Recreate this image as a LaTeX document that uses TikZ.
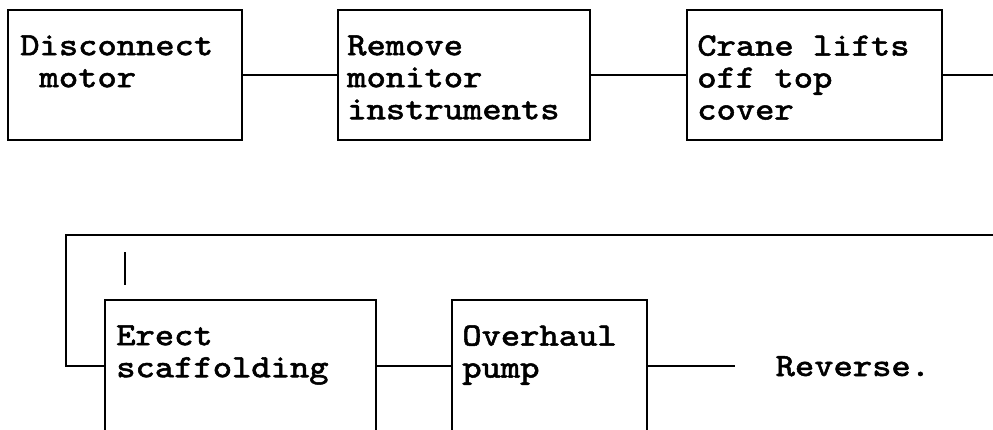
\documentclass[tikz,border=0pt]{standalone}
\usepackage{fontspec}
\newfontfamily\stepfont{Latin Modern Mono}[FakeStretch=1.13, FakeBold=1.6]
\begin{document}
\begin{tikzpicture}[x=0.01cm, y=-0.01cm,
  stepbox/.style={draw, rectangle, line width=0.75pt, minimum height=1.3cm},
  steptext/.style={anchor=north west, align=left, inner sep=0pt, font=\stepfont\fontsize{9.25}{9.1}\selectfont},
  link/.style={line width=0.65pt}
]
\useasboundingbox (0,0) rectangle (993,429);
\clip (0,0) rectangle (993,429);

% Boxes, top row
\node[stepbox, minimum width=2.34cm] (disconnect) at (125,75) {};
\node[stepbox, minimum width=2.52cm] (remove) at (464,75) {};
\node[stepbox, minimum width=2.55cm] (crane) at (814.5,75) {};

% Boxes, bottom row
\node[stepbox, minimum width=2.71cm, minimum height=1.32cm] (erect) at (240.5,366) {};
\node[stepbox, minimum width=1.95cm, minimum height=1.32cm] (overhaul) at (549.5,366) {};

% Box texts
\node[steptext] (disconnect-txt) at ([shift={(13,26)}]disconnect.north west) {Disconnect\\\phantom{x}motor};
\node[steptext] (remove-txt) at ([shift={(10,26)}]remove.north west) {Remove\\monitor\\instruments};
\node[steptext] (crane-txt) at ([shift={(11,26)}]crane.north west) {Crane lifts\\off top\\cover};
\node[steptext] (erect-txt) at ([shift={(12,26)}]erect.north west) {Erect\\scaffolding};
\node[steptext] (overhaul-txt) at ([shift={(11,26)}]overhaul.north west) {Overhaul\\pump};
\node[steptext, anchor=base west] (reverse) at (775,376) {Reverse.};

% Top row connections
\coordinate (top-end) at (993,75);
\draw[link] (disconnect) -- (remove);
\draw[link] (remove) -- (crane);
\draw[link] (crane) -- (top-end);

% Loop back to bottom row
\coordinate (loop-right) at (993,235);
\coordinate (loop-left) at (66,235);
\draw[link] (loop-right) -- (loop-left) |- (erect.west);

% Small mark
\coordinate (mark-top) at (125,252);
\coordinate (mark-bot) at (125,285);
\draw[link] (mark-top) -- (mark-bot);

% Bottom row connections
\coordinate (rev-end) at (735,366);
\draw[link] (erect) -- (overhaul);
\draw[link] (overhaul) -- (rev-end);

\end{tikzpicture}
\end{document}
